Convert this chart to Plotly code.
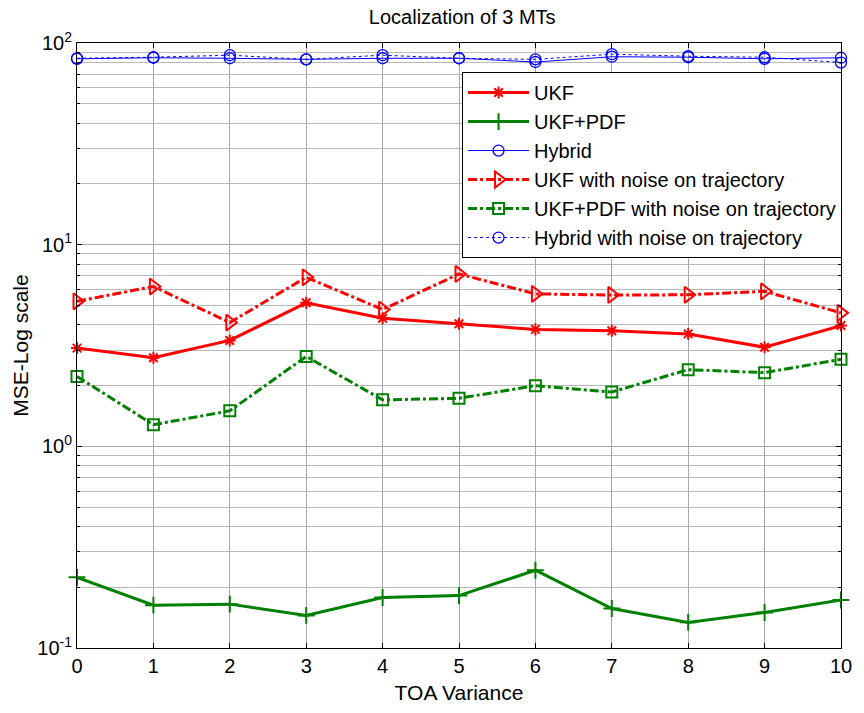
import plotly.graph_objects as go

toa = [0, 1, 2, 3, 4, 5, 6, 7, 8, 9, 10]
ukf = [3.07, 2.75, 3.35, 5.15, 4.32, 4.05, 3.80, 3.74, 3.61, 3.10, 3.97]
ukf_pdf = [0.224, 0.163, 0.165, 0.145, 0.178, 0.182, 0.243, 0.157, 0.134, 0.150, 0.173]
hybrid = [83.5, 84.5, 84.0, 83.0, 84.0, 84.0, 80.5, 85.5, 85.0, 83.5, 84.5]
ukf_noise = [5.24, 6.20, 4.11, 6.89, 4.77, 7.16, 5.70, 5.63, 5.64, 5.87, 4.59]
ukf_pdf_noise = [2.22, 1.28, 1.50, 2.79, 1.70, 1.73, 2.00, 1.86, 2.40, 2.32, 2.70]
hybrid_noise = [84.0, 85.0, 87.0, 83.0, 87.0, 84.0, 83.0, 88.0, 86.0, 85.0, 80.0]

names = ["UKF", "UKF+PDF", "Hybrid", "UKF with noise on trajectory",
         "UKF+PDF with noise on trajectory", "Hybrid with noise on trajectory"]
ytickvals = [0.1, 1, 10, 100]
yticktext = ["10<sup>-1</sup>", "10<sup>0</sup>", "10<sup>1</sup>", "10<sup>2</sup>"]

RED = "rgb(255,0,0)"
GREEN = "rgb(0,128,0)"
BLUE = "rgb(0,0,255)"

fig = go.Figure()
specs = [
    (ukf, RED, "solid", 3, "asterisk-open", 10),
    (ukf_pdf, GREEN, "solid", 3, "cross-thin-open", 12),
    (hybrid, BLUE, "solid", 1, "circle-open", 11),
    (ukf_noise, RED, "dashdot", 3, "triangle-right-open", 14),
    (ukf_pdf_noise, GREEN, "dashdot", 3, "square-open", 11),
    (hybrid_noise, BLUE, "dot", 1, "circle-open", 11),
]
for i, (vals, col, dash, w, sym, sz) in enumerate(specs):
    fig.add_trace(go.Scatter(
        x=toa, y=vals, name=names[i], mode="lines+markers",
        line=dict(color=col, width=w, dash=dash),
        marker=dict(symbol=sym, size=sz, color=col,
                    line=dict(color=col, width=2 if w > 1 else 1.3)),
        cliponaxis=False, legendgroup="g%d" % i,
    ))

font = "Liberation Sans, Arial, sans-serif"
axfont = dict(family=font, size=21, color="black")
tkfont = dict(family=font, size=20, color="black")
fig.update_layout(
    width=864, height=713,
    margin=dict(l=77, r=17, t=43, b=65),
    paper_bgcolor="white", plot_bgcolor="white",
    font=dict(family=font, size=20, color="black"),
    title=dict(text="Localization of 3 MTs", x=0.535, xanchor="center",
               y=0.976, yanchor="middle", font=dict(family=font, size=20)),
    showlegend=True,
    legend=dict(x=0.504, y=0.952, xanchor="left", yanchor="top",
                bordercolor="black", borderwidth=1, bgcolor="white",
                font=dict(family=font, size=20), tracegroupgap=0,
                itemwidth=61),
    xaxis=dict(range=[0, 10], dtick=1, showline=True, linecolor="black",
               linewidth=1, mirror="allticks", ticks="inside", ticklen=5,
               tickcolor="black", showgrid=True, gridcolor="#a8a8a8",
               gridwidth=1, zeroline=False, tickfont=tkfont,
               title=dict(text="TOA Variance", standoff=9, font=axfont)),
    yaxis=dict(type="log", range=[-1, 2], tickvals=ytickvals,
               ticktext=yticktext, showline=True, linecolor="black",
               linewidth=1, mirror="allticks", ticks="inside", ticklen=5,
               tickcolor="black", showgrid=True, gridcolor="#a8a8a8",
               gridwidth=1, zeroline=False, tickfont=tkfont,
               minor=dict(dtick="D1", ticks="inside", ticklen=3,
                          tickcolor="black", showgrid=True,
                          gridcolor="#b8b8b8", gridwidth=1),
               title=dict(text="MSE-Log scale", standoff=2, font=axfont)),
)

fig.write_html("out.html")
